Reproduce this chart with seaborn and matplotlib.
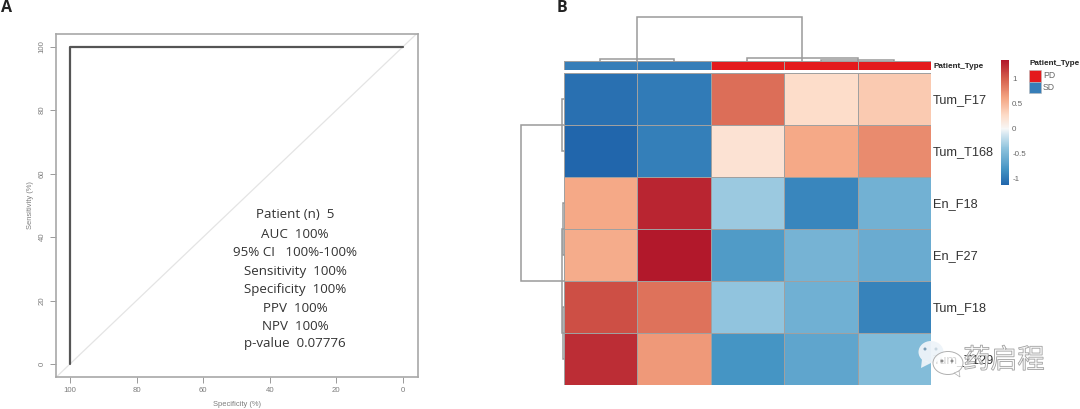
import matplotlib
matplotlib.use("Agg")
import matplotlib.pyplot as plt
import numpy as np
import pandas as pd
import seaborn as sns
from matplotlib.colors import LinearSegmentedColormap, ListedColormap
from matplotlib.patches import Ellipse, Polygon, Rectangle
import matplotlib.patheffects as pe

# ---------- data ----------
roc_specificity = [100, 100, 0]
roc_sensitivity = [0, 100, 100]
roc_ticks = [100, 80, 60, 40, 20, 0]
sens_ticks = [0, 20, 40, 60, 80, 100]
stats_lines = ["Patient (n)  5", "AUC  100%", "95% CI   100%-100%", "Sensitivity  100%",
               "Specificity  100%", "PPV  100%", "NPV  100%", "p-value  0.07776"]

row_labels = ["Tum_F17", "Tum_T168", "En_F18", "En_F27", "Tum_F18", "Tum_T129"]
values = [[-1.05, -0.98, 0.92, 0.26, 0.38],
          [-1.12, -0.95, 0.21, 0.60, 0.76],
          [0.60, 1.30, -0.34, -0.90, -0.55],
          [0.58, 1.37, -0.75, -0.53, -0.60],
          [1.08, 0.90, -0.38, -0.56, -0.92],
          [1.26, 0.68, -0.80, -0.66, -0.45]]
patient_types = [1, 1, 0, 0, 0]   # 0 = PD, 1 = SD
legend_names = ["PD", "SD"]
legend_colors = ["#E41A1C", "#377EB8"]
cbar_ticks = [-1, -0.5, 0, 0.5, 1]
# merges: (position a, position b, height)
col_merges = [(0.5, 1.5, 0.15), (3.5, 4.5, 0.10), (2.5, 4.0, 0.32), (1.0, 3.25, 4.38)]
row_merges = [(0.5, 1.5, 0.15), (2.5, 3.5, 0.08), (4.5, 5.5, 0.08), (3.0, 5.0, 0.15), (1.0, 4.0, 4.25)]

# ---------- figure ----------
W, H = 1080, 409
sns.set_theme(style="white")
plt.rcParams["font.family"] = ["Liberation Sans", "DejaVu Sans"]
fig = plt.figure(figsize=(W / 100, H / 100), dpi=100, facecolor="white")

def px_axes(x0, y0, x1, y1, **kw):
    return fig.add_axes([x0 / W, 1 - y1 / H, (x1 - x0) / W, (y1 - y0) / H], **kw)

# ---------- panel A ----------
ax = px_axes(56, 34, 418, 377)
grey = "#7c7c7c"
ax.axline((100, 0), (0, 100), color="#e4e4e4", lw=0.9, zorder=1)
sns.lineplot(x=roc_specificity, y=roc_sensitivity, sort=False, estimator=None,
             color="#555555", lw=1.6, ax=ax, zorder=2)
ax.set_xlim(104.2, -4.5)
ax.set_ylim(-4.1, 104)
ax.set_xticks(roc_ticks)
ax.set_yticks(sens_ticks)
ax.tick_params(axis="both", length=4, width=0.7, color="#999999", labelcolor=grey,
               labelsize=5.6, pad=3.5, bottom=True, left=True)
for t in ax.get_yticklabels():
    t.set_rotation(90)
    t.set_va("center")
ax.set_xlabel("Specificity (%)", fontsize=5.4, color=grey, labelpad=5)
ax.set_ylabel("Sensitivity (%)", fontsize=5.4, color=grey, labelpad=3.5)
for s in ax.spines.values():
    s.set_color("#a8a8a8")
    s.set_linewidth(1.2)

# ---------- panel B: heatmap ----------
colors = [(0.0, "#2166AC"), (0.12, "#4393C3"), (0.30, "#92C5DE"), (0.40, "#D1E5F0"),
          (0.45, "#F7F7F7"), (0.56, "#FDDBC7"), (0.70, "#F4A582"), (0.85, "#D6604D"), (1.0, "#B2182B")]
cmap = LinearSegmentedColormap.from_list("rdbu_pheat", colors)
df = pd.DataFrame(values, index=row_labels)

hax = px_axes(563.5, 72.7, 931, 385)
cax = px_axes(1000.7, 60.3, 1008.7, 185)
sns.heatmap(df, cmap=cmap, vmin=-1.12, vmax=1.37, linewidths=0.7, linecolor="#a0a0a0",
            ax=hax, cbar_ax=cax, xticklabels=False, yticklabels=True,
            cbar_kws={"ticks": cbar_ticks})
hax.yaxis.tick_right()
hax.tick_params(axis="y", length=0, pad=1.5, labelsize=9.2, labelcolor="#333333", labelrotation=0)
cax.tick_params(length=0, pad=2.5, labelsize=5.8, labelcolor="#666666")
cax.set_yticklabels(["-1", "-0.5", "0", "0.5", "1"])
hax.collections[0].colorbar.outline.set_visible(False)

# annotation strip
aax = px_axes(563.5, 61.3, 931, 69.7)
sns.heatmap(pd.DataFrame([patient_types], index=["Patient_Type"]),
            cmap=ListedColormap(legend_colors), vmin=0, vmax=1, cbar=False,
            linewidths=0.7, linecolor="#a0a0a0", ax=aax, xticklabels=False, yticklabels=True)
aax.yaxis.tick_right()
aax.tick_params(axis="y", length=0, pad=1.5, labelsize=5.9, labelcolor="#222222", labelrotation=0)
for t in aax.get_yticklabels():
    t.set_fontweight("bold")
aax.set_ylabel("")

# dendrograms
dgrey = "#9a9a9a"
cd = px_axes(563.5, 16.2, 931, 60.9)
cd.set_xlim(0, 5)
cd.set_ylim(0, 4.47)
cd.axis("off")
for a, b, h in col_merges:
    cd.plot([a, a, b, b], [0, h, h, 0], color=dgrey, lw=1.1, solid_joinstyle="miter", clip_on=False)
rd = px_axes(519, 72.7, 563.5, 385)
rd.set_ylim(6, 0)
rd.set_xlim(4.45, 0)
rd.axis("off")
for a, b, h in row_merges:
    rd.plot([0, h, h, 0], [a, a, b, b], color=dgrey, lw=1.1, solid_joinstyle="miter", clip_on=False)

# ---------- overlay in page pixels ----------
ov = fig.add_axes([0, 0, 1, 1], facecolor="none")
ov.set_xlim(0, W)
ov.set_ylim(H, 0)
ov.axis("off")

for line, y in zip(stats_lines, [215, 234, 252, 271, 289, 308, 326, 344]):
    ov.text(295, y, line, ha="center", va="center", fontsize=9.6, color="#333333", family="Open Sans")
ov.text(1, 8, "A", fontsize=11.5, fontweight="bold", family="Open Sans", color="#222222", va="center")
ov.text(557, 8, "B", fontsize=11.5, fontweight="bold", family="Open Sans", color="#222222", va="center")

# legend
ov.text(1029, 63.7, "Patient_Type", fontsize=5.9, fontweight="bold", color="#222222", va="center")
for i, (n, c) in enumerate(zip(legend_names, legend_colors)):
    ov.add_patch(Rectangle((1029, 70 + 11.7 * i), 12, 11.7, fc=c, ec="#bbbbbb", lw=0.4))
    ov.text(1043, 76 + 11.7 * i, n, fontsize=6.2, color="#666666", va="center")

# watermark
ov.add_patch(Ellipse((931, 352), 25, 22, fc="#eef4f9", ec="none", alpha=0.95))
ov.add_patch(Polygon([(922, 359), (921, 368), (931, 363)], fc="#eef4f9", ec="none", alpha=0.95))
ov.add_patch(Ellipse((948, 363), 30, 23, fc=(1, 1, 1, 0.8), ec="#b0b0b0", lw=0.7))
ov.add_patch(Polygon([(954, 373), (960, 377), (959, 371)], fc=(1, 1, 1, 0.8), ec="#b0b0b0", lw=0.5))
for ex, ey, c in [(925, 349, "#7d9fb8"), (936, 349, "#c8d6e0"), (942, 361, "#8a8a8a"), (952, 361, "#8a8a8a")]:
    ov.add_patch(Ellipse((ex, ey), 3, 3, fc=c, ec="none"))
ov.text(1004, 360.5, "药启程", fontsize=19.5, ha="center", va="center", color=(1, 1, 1, 0.35),
        family=["Noto Sans CJK SC", "DejaVu Sans"],
        path_effects=[pe.withStroke(linewidth=0.7, foreground="#999999")])

fig.savefig("out.png", dpi=100, facecolor="white")
